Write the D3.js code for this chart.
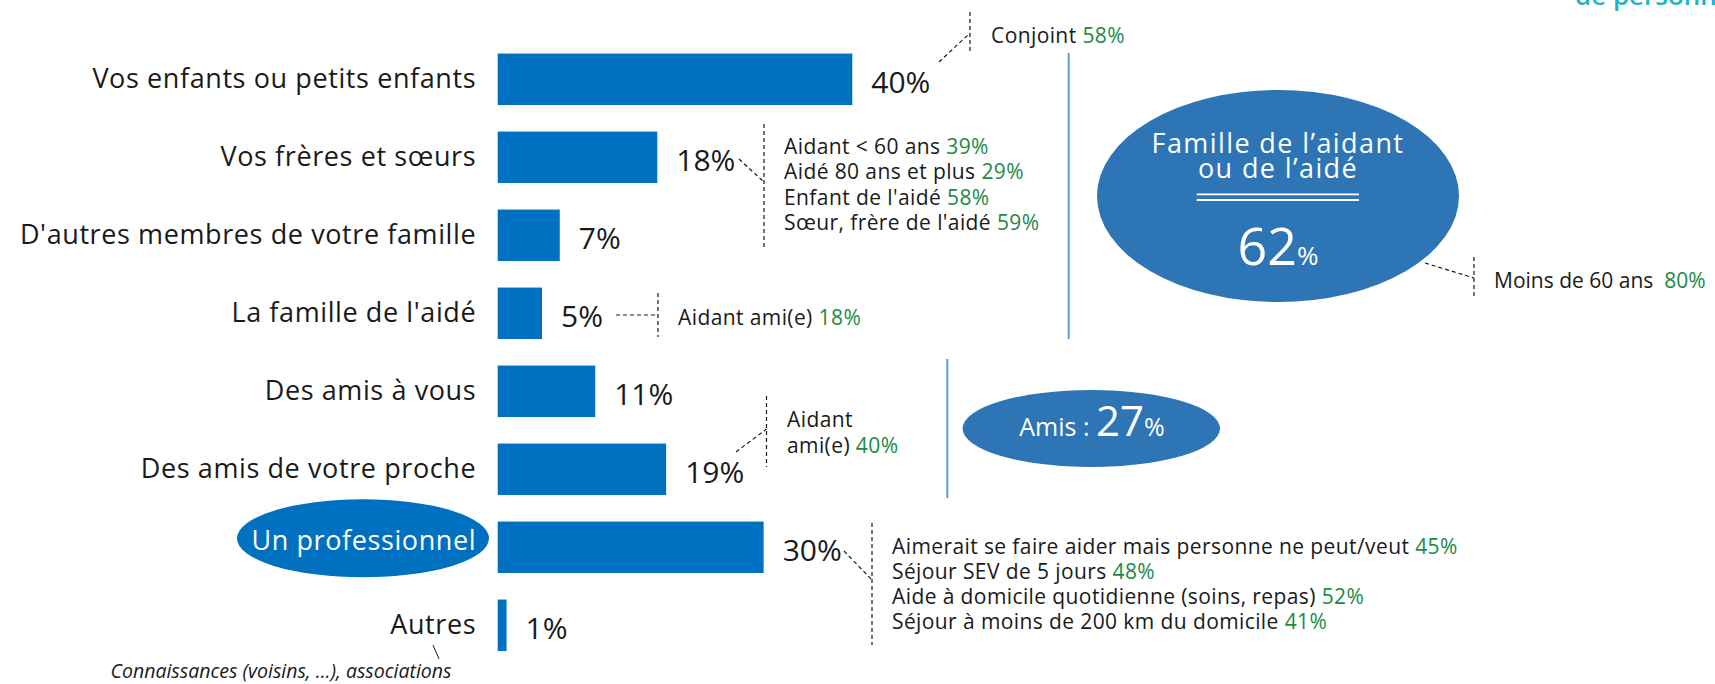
<!DOCTYPE html>
<html>
<head>
<meta charset="utf-8">
<script src="https://cdn.jsdelivr.net/npm/d3@7"></script>
<style>
  body { margin: 0; background: #fff; }
  svg { display: block; font-family: "Open Sans", "DejaVu Sans", sans-serif; }
</style>
</head>
<body>
<div id="chart"></div>
<script>
// data
const categories = [
  "Vos enfants ou petits enfants",
  "Vos frères et sœurs",
  "D'autres membres de votre famille",
  "La famille de l'aidé",
  "Des amis à vous",
  "Des amis de votre proche",
  "Un professionnel",
  "Autres"
]
const values = [40, 18, 7, 5, 11, 19, 30, 1]

const noteConjoint = [["Conjoint", "58%"]]
const noteFreres = [
  ["Aidant < 60 ans", "39%"],
  ["Aidé 80 ans et plus", "29%"],
  ["Enfant de l'aidé", "58%"],
  ["Sœur, frère de l'aidé", "59%"]
]
const noteFamilleAide = [["Aidant ami(e)", "18%"]]
const noteAmisProche = [["Aidant", ""], ["ami(e)", "40%"]]
const notePro = [
  ["Aimerait se faire aider mais personne ne peut/veut", "45%"],
  ["Séjour SEV de 5 jours", "48%"],
  ["Aide à domicile quotidienne (soins, repas)", "52%"],
  ["Séjour à moins de 200 km du domicile", "41%"]
]
const noteMoins60 = [["Moins de 60 ans\u00a0", "80%"]]
const familleTitle = ["Famille de l\u2019aidant", "ou de l\u2019aidé"]
const familleValue = 62
const amisValue = 27
const autresNote = "Connaissances (voisins, ...), associations"
const headerText = "de personnes"

const width = 1715, height = 684
const blue = "#0070C0", ovalBlue = "#2E75B6", lineBlue = "#5B9BD5"
const green = "#1b8a45", ink = "#1a1a1a"

const svg = d3.select("#chart").append("svg")
  .attr("width", width)
  .attr("height", height)

const x = d3.scaleLinear()
  .domain([0, 40])
  .range([497.7, 852.3])

const y = d3.scaleBand()
  .domain(categories)
  .range([40.3, 664.3])
  .paddingInner(0.34)
  .paddingOuter(0.17)

const cy = c => y(c) + y.bandwidth() / 2

// cut-off header on top right
svg.append("text")
  .attr("x", 1575).attr("y", 5)
  .style("font-size", "26px").style("font-weight", 600)
  .attr("fill", "#1fb4bf")
  .text(headerText)

// ellipse behind "Un professionnel"
svg.append("ellipse")
  .attr("cx", 363).attr("cy", cy("Un professionnel") - 9)
  .attr("rx", 126).attr("ry", 39)
  .attr("fill", blue)

// bars
svg.append("g").selectAll("rect")
  .data(values)
  .enter()
  .append("rect")
  .attr("x", x(0))
  .attr("y", (d, i) => y(categories[i]))
  .attr("width", d => x(d) - x(0))
  .attr("height", y.bandwidth())
  .attr("fill", blue)

// value labels
svg.append("g").selectAll("text")
  .data(values)
  .enter()
  .append("text")
  .attr("x", d => x(d) + 19)
  .attr("y", (d, i) => cy(categories[i]) + 14)
  .style("font-size", "30px")
  .attr("fill", ink)
  .text(d => d + "%")

// category axis
const axis = svg.append("g")
  .attr("transform", "translate(" + x(0) + ",0)")
  .call(d3.axisLeft(y).tickSize(0).tickPadding(21.5))
axis.select(".domain").remove()
axis.selectAll("text")
  .style("font-size", "27px")
  .style("letter-spacing", "0.6px")
  .style("font-family", "'Open Sans', sans-serif")
  .attr("fill", ink)
axis.selectAll("text")
  .filter(d => d === "Un professionnel")
  .attr("fill", "#fff")
  .attr("dy", "0.1em")

// "Autres" detail
svg.append("line")
  .attr("x1", 433).attr("y1", 645).attr("x2", 439).attr("y2", 659)
  .attr("stroke", ink).attr("stroke-width", 1)
svg.append("text")
  .attr("x", 281).attr("y", 678)
  .attr("text-anchor", "middle")
  .style("font-size", "19.5px").style("font-style", "italic")
  .attr("fill", ink)
  .text(autresNote)

// dashed connectors
function dashed(x1, y1, x2, y2) {
  svg.append("line")
    .attr("x1", x1).attr("y1", y1).attr("x2", x2).attr("y2", y2)
    .attr("stroke", ink).attr("stroke-width", 1.2)
    .attr("stroke-dasharray", "4,3")
}

function note(lines, x0, y0, step, spacing) {
  const t = svg.append("g")
  lines.forEach((l, i) => {
    const txt = t.append("text")
      .attr("x", x0).attr("y", y0 + i * step)
      .style("font-size", "21px")
      .style("letter-spacing", spacing + "px")
      .attr("fill", ink)
    txt.append("tspan").text(l[0] + (l[1] ? " " : ""))
    txt.append("tspan").attr("fill", green).text(l[1])
  })
}

dashed(939, 62, 970, 33); dashed(970, 12, 970, 54)
note(noteConjoint, 991, 43, 25, 0.4)

dashed(739, 159, 764, 182); dashed(764, 124, 764, 247)
note(noteFreres, 784, 154, 25.3, 0.4)

dashed(616, 315, 658, 315); dashed(658, 293, 658, 337)
note(noteFamilleAide, 678, 325, 25, 0.4)

dashed(736, 452, 766.5, 429); dashed(766.5, 396, 766.5, 467)
note(noteAmisProche, 787, 427, 26, 0.4)

dashed(844, 551, 872, 580); dashed(872, 523, 872, 645)
note(notePro, 892, 554, 25, 0.4)

dashed(1425, 263, 1474, 278); dashed(1474, 257, 1474, 299)
note(noteMoins60, 1494, 288, 25, 0)

// group separators
svg.append("line")
  .attr("x1", 1068.7).attr("y1", 53).attr("x2", 1068.7).attr("y2", 339)
  .attr("stroke", lineBlue).attr("stroke-width", 2)
svg.append("line")
  .attr("x1", 947.3).attr("y1", 359).attr("x2", 947.3).attr("y2", 498)
  .attr("stroke", lineBlue).attr("stroke-width", 2)

// famille oval
svg.append("ellipse")
  .attr("cx", 1278).attr("cy", 196).attr("rx", 181).attr("ry", 106)
  .attr("fill", ovalBlue)
familleTitle.forEach((t, i) => {
  svg.append("text")
    .attr("x", 1278).attr("y", 153.3 + i * 25)
    .attr("text-anchor", "middle")
    .style("font-size", "27px")
    .style("letter-spacing", "1.4px")
    .attr("fill", "#fff")
    .text(t)
})
;[194.3, 200].forEach(yy => {
  svg.append("line")
    .attr("x1", 1196.7).attr("x2", 1359).attr("y1", yy).attr("y2", yy)
    .attr("stroke", "#fff").attr("stroke-width", 1.8)
})
const f62 = svg.append("text")
  .attr("x", 1278).attr("y", 265)
  .attr("text-anchor", "middle")
  .attr("fill", "#fff")
f62.append("tspan").style("font-size", "52px").text(familleValue)
f62.append("tspan").style("font-size", "26px").text("%")

// amis oval
svg.append("ellipse")
  .attr("cx", 1091.3).attr("cy", 428.5).attr("rx", 128.7).attr("ry", 38.5)
  .attr("fill", ovalBlue)
const amis = svg.append("text")
  .attr("x", 1092).attr("y", 436)
  .attr("text-anchor", "middle")
  .attr("fill", "#fff")
amis.append("tspan").style("font-size", "25px").text("Amis : ")
amis.append("tspan").style("font-size", "42px").text(amisValue)
amis.append("tspan").style("font-size", "25px").text("%")
</script>
</body>
</html>
